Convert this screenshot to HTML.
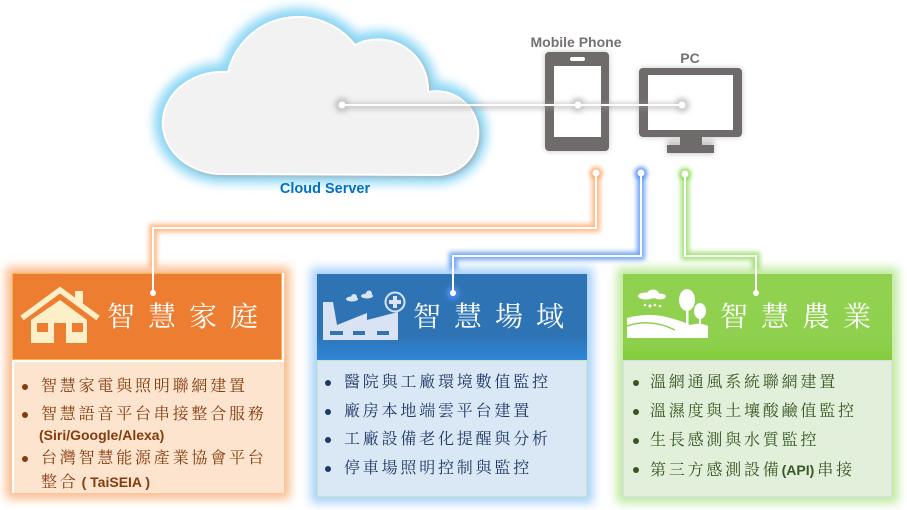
<!DOCTYPE html>
<html><head><meta charset="utf-8">
<style>
html,body{margin:0;padding:0;background:#fff;}
body{width:907px;height:510px;position:relative;overflow:hidden;font-family:"Liberation Sans","Noto Sans CJK TC",sans-serif;}
.abs{position:absolute;}
.hdr{position:absolute;box-sizing:border-box;}
.body{position:absolute;box-sizing:border-box;}
.title{position:absolute;color:#fff;font-family:"Liberation Serif","Noto Serif CJK SC",serif;font-size:28px;line-height:36px;letter-spacing:13px;white-space:nowrap;}
.li{position:absolute;font-family:"Liberation Serif","Noto Serif CJK SC",serif;font-size:16px;line-height:20px;letter-spacing:2.8px;white-space:nowrap;}
.b{font-family:"Liberation Sans",sans-serif;font-weight:bold;letter-spacing:0;}
.dot{position:absolute;width:6px;height:6px;border-radius:50%;}
</style></head><body>

<!-- cloud and devices -->
<svg class="abs" style="left:0;top:0" width="907" height="510" viewBox="0 0 907 510">
<defs>
<filter id="b5" x="-30%" y="-30%" width="160%" height="160%"><feGaussianBlur stdDeviation="5"/></filter>
<filter id="b3" x="-30%" y="-30%" width="160%" height="160%"><feGaussianBlur stdDeviation="3"/></filter>
<filter id="b2" x="-30%" y="-30%" width="160%" height="160%"><feGaussianBlur stdDeviation="2"/></filter>
<path id="cl" d="M218 174 A60 51 0 1 1 228 72 A72 72 0 0 1 355 45 A50 50 0 0 1 428 92 A42 42 0 1 1 440 175 Z"/>
</defs>
<use href="#cl" fill="#8fd8f6" stroke="#8fd8f6" stroke-width="18" filter="url(#b5)"/>
<use href="#cl" fill="#a9a9a9" transform="translate(2,2)" filter="url(#b2)"/>
<use href="#cl" fill="#f2f2f2" stroke="#ffffff" stroke-width="2"/>

<!-- devices shadows -->
<g filter="url(#b3)" opacity="0.55">
<rect x="545" y="52" width="64" height="99" rx="4" fill="#999"/>
<rect x="639" y="68" width="103" height="69" rx="4" fill="#999"/>
<rect x="667" y="140" width="47" height="14" fill="#999"/>
</g>
<!-- phone -->
<rect x="545" y="52" width="64" height="99" rx="4" fill="#6f6b6a"/>
<rect x="554" y="66" width="47" height="71" fill="#ffffff"/>
<rect x="570" y="57" width="15" height="4" rx="2" fill="#ffffff"/>
<!-- pc -->
<rect x="639" y="68" width="103" height="69" rx="4" fill="#6f6b6a"/>
<rect x="648" y="75" width="85" height="55" fill="#ffffff"/>
<rect x="680" y="136" width="22" height="10" fill="#6f6b6a"/>
<rect x="667" y="145" width="47" height="8" fill="#6f6b6a"/>

<!-- network line -->
<g filter="url(#b3)" opacity="0.6">
<line x1="342" y1="106" x2="682" y2="106" stroke="#9a9a9a" stroke-width="5"/>
<circle cx="342" cy="105" r="7" fill="#999"/>
<circle cx="578" cy="105" r="7" fill="#999"/>
<circle cx="682" cy="105" r="7" fill="#999"/>
</g>
<line x1="342" y1="105" x2="682" y2="105" stroke="#ffffff" stroke-width="2"/>
<circle cx="342" cy="105" r="3.5" fill="#fff"/>
<circle cx="578" cy="105" r="3.5" fill="#fff"/>
<circle cx="682" cy="105" r="3.5" fill="#fff"/>

<text x="325" y="193" text-anchor="middle" font-family="Liberation Sans, sans-serif" font-weight="bold" font-size="14.5" fill="#0070c0">Cloud Server</text>
<text x="576" y="47" text-anchor="middle" font-family="Liberation Sans, sans-serif" font-weight="bold" font-size="14" fill="#767171">Mobile Phone</text>
<text x="690" y="63" text-anchor="middle" font-family="Liberation Sans, sans-serif" font-weight="bold" font-size="14" fill="#767171">PC</text>
</svg>

<!-- ORANGE BOX -->
<div class="abs" style="left:12px;top:273px;width:272px;height:220px;box-shadow:0 0 9px 6px rgba(248,160,95,0.7);"></div>
<div class="hdr" style="left:12px;top:273px;width:270px;height:87px;background:#ed7d31;border:1px solid #fbb24a;"></div>
<div class="body" style="left:14px;top:362px;width:270px;height:131px;background:#fce4cf;"></div>

<!-- BLUE BOX -->
<div class="abs" style="left:317px;top:274px;width:270px;height:223px;box-shadow:0 0 9px 6px rgba(130,190,250,0.7);"></div>
<div class="hdr" style="left:317px;top:274px;width:270px;height:86px;background:linear-gradient(#2e74b5 0%,#2e74b5 72%,#2f86d8 100%);"></div>
<div class="body" style="left:317px;top:360px;width:270px;height:137px;background:#dae8f6;border:1px solid #c8e6c0;"></div>

<!-- GREEN BOX -->
<div class="abs" style="left:623px;top:274px;width:269px;height:223px;box-shadow:0 0 9px 6px rgba(170,225,125,0.75);"></div>
<div class="hdr" style="left:623px;top:274px;width:269px;height:86px;background:linear-gradient(#90d150 0%,#8fd14f 75%,#84cc3c 100%);"></div>
<div class="body" style="left:623px;top:360px;width:269px;height:137px;background:#e2efda;border:1px solid #d4dff0;"></div>

<!-- icons -->
<svg class="abs" style="left:0;top:0" width="907" height="510" viewBox="0 0 907 510">
<!-- house -->
<g fill="#fdf0c8">
<polyline points="22,318 60,290 98,318" fill="none" stroke="#fdf0c8" stroke-width="5.5"/>
<rect x="75" y="291" width="8" height="13"/>
<polygon points="31,343 31,320 60,300 87,320 87,343"/>
</g>
<rect x="37" y="323" width="11" height="9" fill="#ed7d31"/>
<rect x="72" y="323" width="11" height="9" fill="#ed7d31"/>
<rect x="54" y="323" width="12" height="20" fill="#ed7d31"/>
<!-- factory -->
<g fill="#dae3f3">
<polygon points="323,302 333,302 337,325 367,313 367,320 398,312 398,340 323,340"/>
<ellipse cx="352" cy="299" rx="6" ry="2.5"/><circle cx="354" cy="297" r="3"/>
<ellipse cx="367" cy="296" rx="6" ry="2.5"/><circle cx="369" cy="293.5" r="3"/>
</g>
<rect x="330" y="331" width="13" height="4" fill="#2e74b5"/>
<rect x="353" y="331" width="12" height="4" fill="#2e74b5"/>
<rect x="377" y="331" width="12" height="4" fill="#2e74b5"/>
<circle cx="395" cy="302" r="9.5" fill="none" stroke="#dae3f3" stroke-width="2"/>
<path d="M393 296 h4 v4 h4 v4 h-4 v4 h-4 v-4 h-4 v-4 h4z" fill="#dae3f3"/>
<!-- farm -->
<g fill="#ffffff">
<ellipse cx="646" cy="296" rx="8" ry="3.5"/><ellipse cx="653" cy="294" rx="6" ry="4.5"/><ellipse cx="660" cy="296.5" rx="6" ry="3"/>
<circle cx="645" cy="305" r="1.3"/><circle cx="650" cy="306" r="1.6"/><circle cx="655" cy="305" r="1.3"/><circle cx="660" cy="306" r="1.3"/>
<ellipse cx="687" cy="300" rx="8" ry="11"/><rect x="686" y="306" width="2.5" height="20"/>
<ellipse cx="700" cy="311" rx="6" ry="8"/><rect x="699" y="316" width="2" height="12"/>
<path d="M627 318 Q645 313 662 316 Q680 320 690 325 Q700 322 708 326 L708 338 L627 338 Z"/>
</g>
<path d="M627 326 Q650 318 675 330" fill="none" stroke="#8fd14f" stroke-width="1.5"/>
</svg>

<!-- titles -->
<div class="title" style="left:107px;top:300px;">智慧家庭</div>
<div class="title" style="left:413px;top:300px;">智慧場域</div>
<div class="title" style="left:720px;top:300px;">智慧農業</div>

<!-- orange list -->
<div class="dot" style="left:22px;top:384px;background:#843c0c;"></div>
<div class="li" style="left:41px;top:377px;color:#843c0c;">智慧家電與照明聯網建置</div>
<div class="dot" style="left:22px;top:412px;background:#843c0c;"></div>
<div class="li" style="left:41px;top:405px;color:#843c0c;">智慧語音平台串接整合服務</div>
<div class="li b" style="left:39px;top:425px;color:#843c0c;font-size:14px;">(Siri/Google/Alexa)</div>
<div class="dot" style="left:22px;top:456px;background:#843c0c;"></div>
<div class="li" style="left:41px;top:449px;color:#843c0c;">台灣智慧能源產業協會平台</div>
<div class="li" style="left:41px;top:472px;color:#843c0c;">整合<span class="b" style="font-size:14px;margin-left:3px;">( TaiSEIA )</span></div>

<!-- blue list -->
<div class="dot" style="left:325px;top:380px;background:#1f3864;"></div>
<div class="li" style="left:344px;top:373px;color:#1f3864;">醫院與工廠環境數值監控</div>
<div class="dot" style="left:325px;top:409px;background:#1f3864;"></div>
<div class="li" style="left:344px;top:402px;color:#1f3864;">廠房本地端雲平台建置</div>
<div class="dot" style="left:325px;top:437px;background:#1f3864;"></div>
<div class="li" style="left:344px;top:430px;color:#1f3864;">工廠設備老化提醒與分析</div>
<div class="dot" style="left:325px;top:466px;background:#1f3864;"></div>
<div class="li" style="left:344px;top:459px;color:#1f3864;">停車場照明控制與監控</div>

<!-- green list -->
<div class="dot" style="left:633px;top:380px;background:#385723;"></div>
<div class="li" style="left:650px;top:373px;color:#385723;">溫網通風系統聯網建置</div>
<div class="dot" style="left:633px;top:409px;background:#385723;"></div>
<div class="li" style="left:650px;top:402px;color:#385723;">溫濕度與土壤酸鹼值監控</div>
<div class="dot" style="left:633px;top:438px;background:#385723;"></div>
<div class="li" style="left:650px;top:431px;color:#385723;">生長感測與水質監控</div>
<div class="dot" style="left:633px;top:467px;background:#385723;"></div>
<div class="li" style="left:650px;top:460px;color:#385723;">第三方感測設備<span class="b" style="font-size:14px;margin-right:3px;">(API)</span>串接</div>

<!-- connectors on top -->
<svg class="abs" style="left:0;top:0" width="907" height="510" viewBox="0 0 907 510">
<defs>
<filter id="g3" x="0" y="0" width="907" height="510" filterUnits="userSpaceOnUse"><feGaussianBlur stdDeviation="2.5"/></filter>
</defs>
<g filter="url(#g3)" fill="none" stroke-width="8" opacity="0.8">
<path d="M596 173 V228 H153 V268" stroke="#ffa766"/>
<path d="M641 173 V256 H453 V270" stroke="#4f8ff5"/>
<path d="M685 174 V256 H756 V270" stroke="#8ddc58"/>
</g>
<g filter="url(#g3)">
<circle cx="596" cy="173" r="6" fill="#ffa766"/>
<circle cx="641" cy="173" r="6" fill="#4f8ff5"/>
<circle cx="685" cy="174" r="6" fill="#8ddc58"/>
<circle cx="453" cy="293" r="6" fill="#4f8ff5"/>
</g>
<g fill="none" stroke="#ffffff" stroke-width="2">
<path d="M596 173 V228 H153 V293"/>
<path d="M641 173 V256 H453 V293"/>
<path d="M685 174 V256 H756 V293"/>
</g>
<g fill="#ffffff">
<circle cx="596" cy="173" r="3.5"/><circle cx="153" cy="293" r="3"/>
<circle cx="641" cy="173" r="3.5"/><circle cx="453" cy="293" r="3"/>
<circle cx="685" cy="174" r="3.5"/><circle cx="756" cy="293" r="3"/>
</g>
</svg>
</body></html>
